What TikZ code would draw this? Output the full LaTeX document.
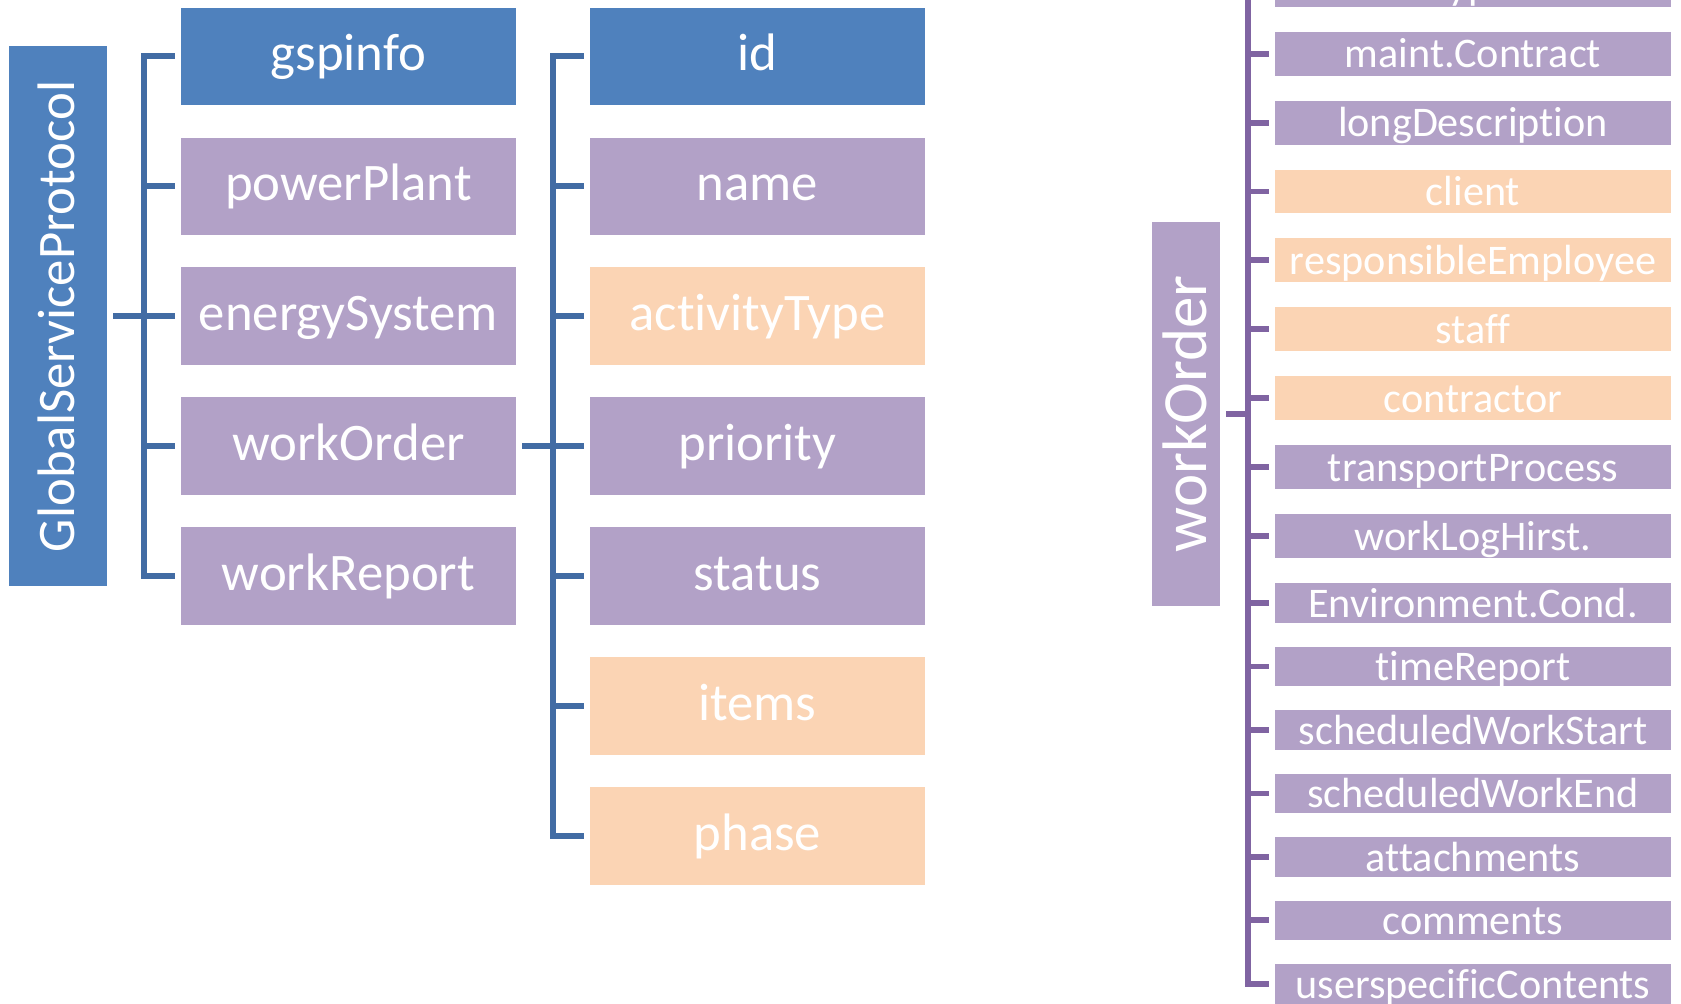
\documentclass[tikz,border=0pt]{standalone}
\usepackage{fontspec}
\setmainfont{Carlito}[Ligatures={NoCommon}]
\usepackage{tikz}
\usetikzlibrary{trees}

\definecolor{gspblue}{RGB}{79,129,189}
\definecolor{gsppurple}{RGB}{178,161,199}
\definecolor{gsppeach}{RGB}{251,212,180}
\definecolor{lineblue}{RGB}{66,108,164}
\definecolor{linepurple}{RGB}{128,100,162}

% strut for the upright labels
\newcommand{\sidestrut}{\rule[-0.2em]{0pt}{1.04em}}

\tikzset{
    basebox/.style={rectangle, inner sep=0pt, text=white},
    bigbox/.style={basebox, minimum width=31.3mm, minimum height=9.1mm,
        font=\fontsize{14pt}{16.8pt}\selectfont, text height=0.8em, text depth=0.04em},
    headbox/.style={bigbox, fill=gspblue},
    fieldbox/.style={bigbox, fill=gsppurple},
    linkbox/.style={bigbox, fill=gsppeach},
    rowbox/.style={basebox, minimum width=37mm,
        font=\fontsize{11.2pt}{13.4pt}\selectfont, text height=0.8em, text depth=0.04em},
    fieldrow/.style={rowbox, fill=gsppurple},
    linkrow/.style={rowbox, fill=gsppeach},
    purpleline/.style={draw=linepurple, line width=0.55mm},
}

\begin{document}
\begin{tikzpicture}
    [
        x=0.1mm, y=-0.1mm,
        grow'=right,
        level 1/.style={sibling distance=12.125mm, level distance=27.1mm},
        level 2/.style={sibling distance=12.125mm, level distance=38.15mm},
        edge from parent/.style={draw=lineblue, line width=0.55mm},
        edge from parent path={([xshift=0.5mm]\tikzparentnode.east) -- ++(2.9mm,0)
            |- ([xshift=-0.5mm]\tikzchildnode.west)},
    ]
    \useasboundingbox (0,0) rectangle (1568,936);
    \clip (0,0) rectangle (1568,936);

    % protocol tree
    \node[basebox, fill=gspblue, minimum width=9.2mm, minimum height=50.4mm,
          font=\fontsize{14pt}{16.8pt}\selectfont] (gsp) at (54,295)
          {\rotatebox{90}{\sidestrut GlobalServiceProtocol}}
        child { node[headbox] (gspinfo) {gspinfo} }
        child { node[fieldbox] (powerplant) {powerPlant} }
        child { node[fieldbox] (energysystem) {energySystem} }
        child { node[fieldbox] (workorder) {workOrder}
            child { node[headbox] (id) {id} }
            child { node[fieldbox] (name) {name} }
            child { node[linkbox] (activitytype) {activityType} }
            child { node[fieldbox] (priority) {priority} }
            child { node[fieldbox] (status) {status} }
            child { node[linkbox] (items) {items} }
            child { node[linkbox] (phase) {phase} }
            }
        child { node[fieldbox] (workreport) {workReport} };

    % workOrder details
    \node[basebox, fill=gsppurple, minimum width=6.3mm, minimum height=35.8mm,
          font=\fontsize{16.7pt}{20pt}\selectfont] (wo) at (1106.5,386)
          {\rotatebox{90}{\sidestrut workOrder}};
    \foreach \ypos/\h/\kind/\txt [count=\i] in {
        -14.3/4.1/fieldrow/type,
        50/4.1/fieldrow/maint.Contract,
        114.3/4.1/fieldrow/longDescription,
        178.6/4.1/linkrow/client,
        242.9/4.1/linkrow/responsibleEmployee,
        307.2/4.1/linkrow/staff,
        371.5/4.1/linkrow/contractor,
        435.8/4.1/fieldrow/transportProcess,
        500.1/4.1/fieldrow/workLogHirst.,
        562.5/3.7/fieldrow/Environment.Cond.,
        621.7/3.7/fieldrow/timeReport,
        680.9/3.7/fieldrow/scheduledWorkStart,
        740.1/3.7/fieldrow/scheduledWorkEnd,
        799.3/3.7/fieldrow/attachments,
        858.5/3.7/fieldrow/comments,
        917.7/3.7/fieldrow/userspecificContents%
    }
    {
        \node[\kind, minimum height=\h mm] (wo\i) at (1374,\ypos) {\txt};
        \draw[purpleline] ([xshift=0.5mm]wo.east) -- ++(2mm,0) |- ([xshift=-0.5mm]wo\i.west);
    }
\end{tikzpicture}
\end{document}
